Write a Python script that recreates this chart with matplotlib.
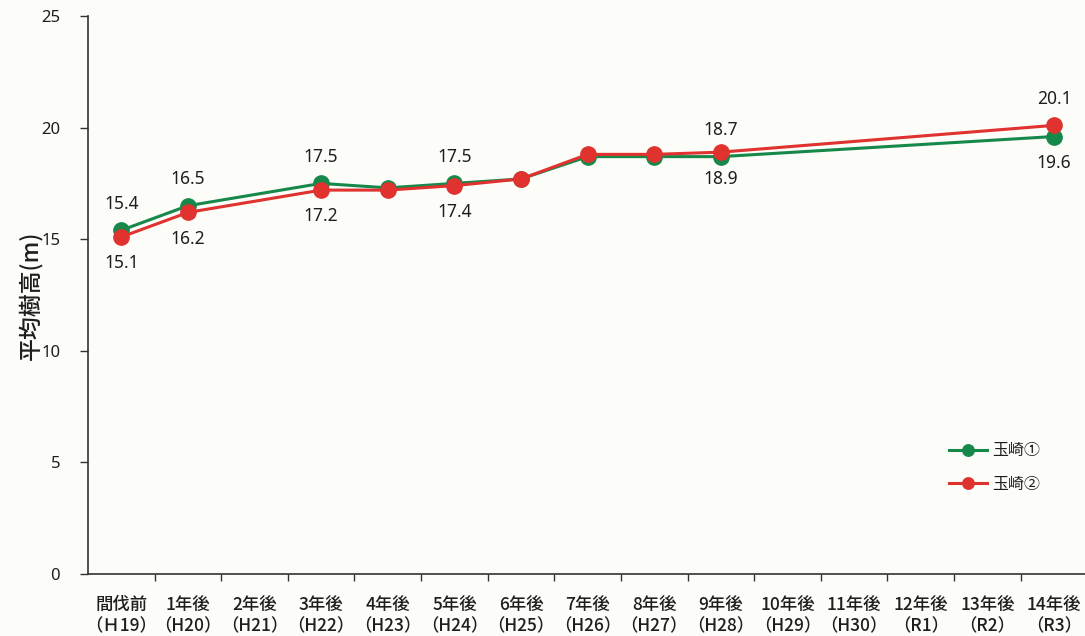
import numpy as np
import matplotlib
matplotlib.use("Agg")
import matplotlib.pyplot as plt
from matplotlib.ticker import FixedLocator, NullFormatter

plt.rcParams['font.family'] = ['Noto Sans CJK JP', 'DejaVu Sans']

# Categories (years after thinning) and era labels
periods = ["間伐前", "1年後", "2年後", "3年後", "4年後", "5年後", "6年後", "7年後",
           "8年後", "9年後", "10年後", "11年後", "12年後", "13年後", "14年後"]
eras = ["（Ｈ19）", "（H20）", "（H21）", "（H22）", "（H23）", "（H24）", "（H25）", "（H26）",
        "（H27）", "（H28）", "（H29）", "（H30）", "（R1）", "（R2）", "（R3）"]

nan = np.nan
# Mean tree height (m); nan = not surveyed
tamasaki1 = [15.4, 16.5, nan, 17.5, 17.3, 17.5, 17.7, 18.7, 18.7, 18.7, nan, nan, nan, nan, 19.6]
tamasaki2 = [15.1, 16.2, nan, 17.2, 17.2, 17.4, 17.7, 18.8, 18.8, 18.9, nan, nan, nan, nan, 20.1]

# Value labels: +1 above the marker, -1 below, 0 none
labels1 = [1, 1, 0, 1, 0, 1, 0, 0, 0, 1, 0, 0, 0, 0, -1]
labels2 = [-1, -1, 0, -1, 0, -1, 0, 0, 0, -1, 0, 0, 0, 0, 1]

green = "#16894a"
red = "#e0322f"
text_color = "#1e1e1e"

fig = plt.figure(figsize=(10.85, 6.36), dpi=100)
bg = "#fcfcf8"
fig.patch.set_facecolor(bg)
ax = fig.add_axes([88 / 1085, 1 - 574 / 636, 1 - 88 / 1085, (574 - 16) / 636])
ax.set_facecolor(bg)

x = np.arange(len(periods))

def draw(series, color, name, zorder):
    y = np.array(series, dtype=float)
    m = ~np.isnan(y)
    ax.plot(x[m], y[m], color=color, lw=2.2, marker="o", markersize=11,
            markeredgecolor=color, label=name, zorder=zorder, clip_on=False)

draw(tamasaki1, green, "玉崎①", 3)
draw(tamasaki2, red, "玉崎②", 4)

for series, flags in ((tamasaki1, labels1), (tamasaki2, labels2)):
    for i, (v, f) in enumerate(zip(series, flags)):
        if f == 0 or np.isnan(v):
            continue
        ax.annotate(f"{v:.1f}", (i, v), xytext=(0, 19 * f), textcoords="offset points",
                    ha="center", va="center", fontsize=12.5, color=text_color,
                    family=["Noto Sans", "DejaVu Sans"])

ax.set_xlim(-0.5, (1085 - 121) / ((1054 - 121) / 14))
ax.set_ylim(0, 25)
ax.set_yticks([0, 5, 10, 15, 20, 25])
ax.tick_params(axis="y", direction="out", length=6, width=1, colors="#333333",
               labelsize=12, pad=14)
for t in ax.get_yticklabels():
    t.set_family(["Noto Sans", "DejaVu Sans"])
    t.set_color(text_color)

ax.set_xticks(x)
ax.set_xticklabels([f"{p}\n{e}" for p, e in zip(periods, eras)], fontsize=12.5,
                   linespacing=1.3, fontweight="medium")
ax.tick_params(axis="x", which="major", length=0, pad=15.5, colors=text_color)
ax.xaxis.set_minor_locator(FixedLocator(np.arange(0.5, 14.5, 1.0)))
ax.xaxis.set_minor_formatter(NullFormatter())
ax.tick_params(axis="x", which="minor", direction="out", length=5, width=1, color="#333333")

for s in ("top", "right"):
    ax.spines[s].set_visible(False)
for s in ("left", "bottom"):
    ax.spines[s].set_color("#333333")
    ax.spines[s].set_linewidth(1.2)

ax.set_ylabel("平均樹高(m)", fontsize=16.5, color=text_color, fontweight="medium")
ax.yaxis.set_label_coords(-0.046, 0.5)

leg = ax.legend(loc="upper left", bbox_to_anchor=(0.849, 0.262), frameon=False,
                fontsize=11.5, handlelength=2.4, markerscale=0.75, labelspacing=1.05,
                handletextpad=0.3)
for t in leg.get_texts():
    t.set_color(text_color)

fig.savefig("out.png", dpi=100, facecolor=bg)
